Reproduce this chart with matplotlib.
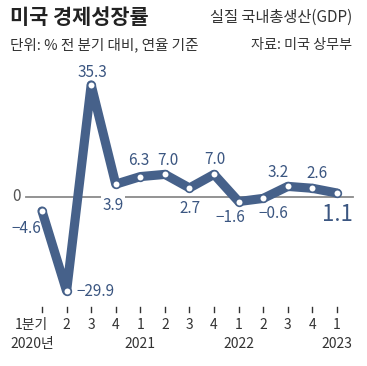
import matplotlib
matplotlib.use('Agg')
import matplotlib.pyplot as plt

# data
quarters = ['1분기', '2', '3', '4', '1', '2', '3', '4', '1', '2', '3', '4', '1']
years = {0: '2020년', 4: '2021', 8: '2022', 12: '2023'}
growth = [-4.6, -29.9, 35.3, 3.9, 6.3, 7.0, 2.7, 7.0, -1.6, -0.6, 3.2, 2.6, 1.1]

# label offsets in pixels (dx, dy) relative to each point
label_off = [(-16, -17), (10, -1), (1, 12), (-3, -21), (-2, 16), (3, 14), (1, -21),
             (1, 15), (-8, -16), (10, -15), (-10, 14), (5, 15), (0, -21)]

plt.rcParams['font.family'] = ['Noto Sans CJK KR', 'DejaVu Sans']

blue = '#46618a'
txt_blue = '#3b5681'
px = 72 / 100  # pixel -> point

fig = plt.figure(figsize=(3.67, 3.66), dpi=100)
ax = fig.add_axes([0, 0, 1, 1])
ax.set_xlim(-42 / 24.58, (367 - 42) / 24.58)
ax.set_ylim(-(366 - 196.5) / 3.16, 196.5 / 3.16)
ax.axis('off')

x = list(range(len(growth)))

# zero line
ax.plot([-16 / 24.58, (353 - 42) / 24.58], [0, 0], color='#8a8a8a', lw=1.3, zorder=1)
ax.annotate('0', (-16 / 24.58, 0), xytext=(-10 * px, 0), textcoords='offset points',
            ha='center', va='center', fontsize=11, color='#555555')

ax.plot(x, growth, color=blue, lw=6.6, solid_joinstyle='round', solid_capstyle='round', zorder=3)
ax.plot(x, growth, 'o', ms=5.5, mfc='white', mec=blue, mew=1.2, zorder=4)

for i, v in enumerate(growth):
    dx, dy = label_off[i]
    s = f'{v:.1f}'.replace('-', '\u2212')
    last = i == len(growth) - 1
    bbox = dict(fc='white', ec='none', pad=1) if i in (3, 6) else None
    ax.annotate(s, (i, v), xytext=(dx * px, dy * px), textcoords='offset points',
                ha='left' if i == 1 else 'center', va='center',
                fontsize=16 if last else 11, fontweight='medium' if last else 'normal',
                color=txt_blue, bbox=bbox, zorder=5)

# ticks and tick labels
for i, q in enumerate(quarters):
    ax.plot([i, i], [-(307 - 196.5) / 3.16, -(312 - 196.5) / 3.16], color='#333333', lw=1)
    dx = -11 if i == 0 else 0
    ax.annotate(q, (i, -(325 - 196.5) / 3.16), xytext=(dx * px, 0), textcoords='offset points',
                ha='center', va='center', fontsize=10, color='#333333')
for i, yr in years.items():
    dx = -10 if i == 0 else 0
    ax.annotate(yr, (i, -(344 - 196.5) / 3.16), xytext=(dx * px, 0), textcoords='offset points',
                ha='center', va='center', fontsize=10, color='#333333')

# titles
fig.text(10 / 367, 1 - 17 / 366, '미국 경제성장률', fontsize=15, fontweight='bold',
         color='#222222', ha='left', va='center')
fig.text(352 / 367, 1 - 17 / 366, '실질 국내총생산(GDP)', fontsize=11,
         color='#333333', ha='right', va='center')
fig.text(10 / 367, 1 - 45 / 366, '단위: % 전 분기 대비, 연율 기준', fontsize=10.5,
         color='#333333', ha='left', va='center')
fig.text(352 / 367, 1 - 45 / 366, '자료: 미국 상무부', fontsize=10.2,
         color='#333333', ha='right', va='center')

fig.savefig('out.png', dpi=100)
